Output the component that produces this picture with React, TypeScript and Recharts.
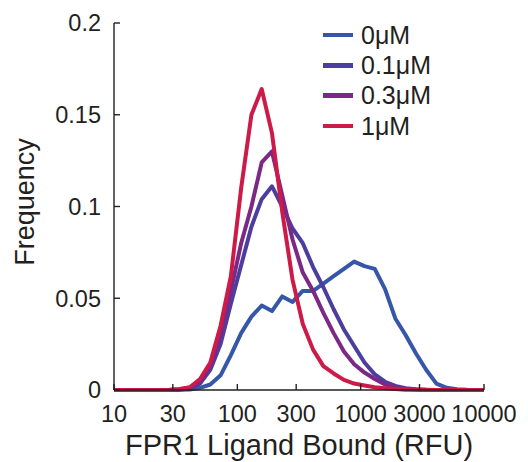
import React from 'react';
import { LineChart, Line, XAxis, YAxis, Legend } from 'recharts';

// bin centres of the histogram (RFU, log spaced)
const binCenters = [
  10, 10.74, 13.01, 15.76, 19.09, 23.13, 28.03, 33.95, 41.14, 49.84, 60.38, 73.15, 88.62,
  107.4, 130.1, 157.6, 190.9, 231.3, 280.3, 339.5, 411.4, 498.4, 603.8, 731.5, 886.2,
  1074, 1301, 1576, 1909, 2313, 2803, 3395, 4114, 4984, 6038, 7315, 8862, 10000,
];

const freq0uM = [
  0, 0, 0, 0, 0, 0, 0, 0.0001, 0.0003, 0.0012, 0.003, 0.008, 0.019,
  0.031, 0.04, 0.046, 0.043, 0.051, 0.048, 0.054, 0.054, 0.058, 0.062, 0.066, 0.07,
  0.0675, 0.066, 0.055, 0.039, 0.03, 0.02, 0.011, 0.0035, 0.0012, 0.0004, 0.0001, 0, 0,
];

const freq01uM = [
  0, 0, 0, 0, 0, 0, 0, 0.0002, 0.0008, 0.0035, 0.011, 0.025, 0.047,
  0.068, 0.089, 0.104, 0.111, 0.1, 0.088, 0.08, 0.067, 0.056, 0.044, 0.033, 0.024,
  0.015, 0.0085, 0.0045, 0.0022, 0.001, 0.0004, 0.0001, 0, 0, 0, 0, 0, 0,
];

const freq03uM = [
  0, 0, 0, 0, 0, 0, 0, 0.0003, 0.0012, 0.0045, 0.013, 0.03, 0.054,
  0.08, 0.1, 0.124, 0.13, 0.106, 0.082, 0.064, 0.054, 0.042, 0.031, 0.021, 0.014,
  0.0095, 0.006, 0.003, 0.0015, 0.0007, 0.0003, 0.0001, 0, 0, 0, 0, 0, 0,
];

const freq1uM = [
  0, 0, 0, 0, 0, 0, 0.0001, 0.0005, 0.0015, 0.006, 0.015, 0.035, 0.062,
  0.11, 0.15, 0.164, 0.14, 0.097, 0.06, 0.036, 0.022, 0.013, 0.009, 0.0055, 0.0035,
  0.0025, 0.0015, 0.001, 0.0005, 0.0002, 0.0001, 0, 0, 0, 0, 0, 0, 0,
];

const xTicks = [10, 30, 100, 300, 1000, 3000, 10000];
const yTicks = [0, 0.05, 0.1, 0.15, 0.2];

const series = [
  { key: 'c0', name: '0μM', color: '#3656a8', values: freq0uM },
  { key: 'c01', name: '0.1μM', color: '#4b3e9e', values: freq01uM },
  { key: 'c03', name: '0.3μM', color: '#7c2885', values: freq03uM },
  { key: 'c1', name: '1μM', color: '#cc1b48', values: freq1uM },
];

const rows = binCenters.map((x, i) => {
  const row: Record<string, number> = { x };
  series.forEach((s) => {
    row[s.key] = s.values[i];
  });
  return row;
});

const font = '"Liberation Sans", Arial, Helvetica, sans-serif';
const ink = '#231f20';

const renderLegend = () => (
  <div style={{ fontFamily: font, fontSize: 25, color: ink }}>
    {series.map((s) => (
      <div key={s.key} style={{ display: 'flex', alignItems: 'center', height: 30.3 }}>
        <span style={{ display: 'inline-block', width: 30, height: 4.5, background: s.color, marginRight: 8 }} />
        <span>{s.name}</span>
      </div>
    ))}
  </div>
);

export default function App() {
  return (
    <div style={{ position: 'absolute', left: 0, top: 0, background: '#fff' }}>
      <LineChart width={528} height={462} data={rows} margin={{ top: 23, right: 44, bottom: 0, left: 0 }}>
        <XAxis
          dataKey="x"
          type="number"
          scale="log"
          domain={[10, 10000]}
          ticks={xTicks}
          allowDataOverflow
          height={72}
          tickSize={-6}
          tickMargin={21}
          stroke={ink}
          strokeWidth={1.4}
          tick={{ fill: ink, fontSize: 23.5, fontFamily: font }}
          label={{
            value: 'FPR1 Ligand Bound (RFU)',
            position: 'insideBottom',
            offset: 7,
            style: { fill: ink, fontSize: 29, fontFamily: font },
          }}
        />
        <YAxis
          type="number"
          domain={[0, 0.2]}
          ticks={yTicks}
          width={114}
          tickSize={-6}
          tickMargin={19}
          stroke={ink}
          strokeWidth={1.4}
          tick={{ fill: ink, fontSize: 23.5, fontFamily: font }}
          label={{
            content: () => (
              <text
                x={25}
                y={202}
                transform="rotate(-90 25 202)"
                textAnchor="middle"
                dominantBaseline="central"
                fill={ink}
                fontSize={27}
                fontFamily={font}
              >
                Frequency
              </text>
            ),
          }}
        />
        <Legend
          layout="horizontal"
          verticalAlign="middle"
          align="center"
          wrapperStyle={{ top: 20, left: 323, width: 190 }}
          content={renderLegend}
        />
        {series.map((s) => (
          <Line
            key={s.key}
            dataKey={s.key}
            name={s.name}
            type="linear"
            stroke={s.color}
            strokeWidth={4}
            strokeLinejoin="round"
            dot={false}
            activeDot={false}
            isAnimationActive={false}
          />
        ))}
      </LineChart>
    </div>
  );
}
